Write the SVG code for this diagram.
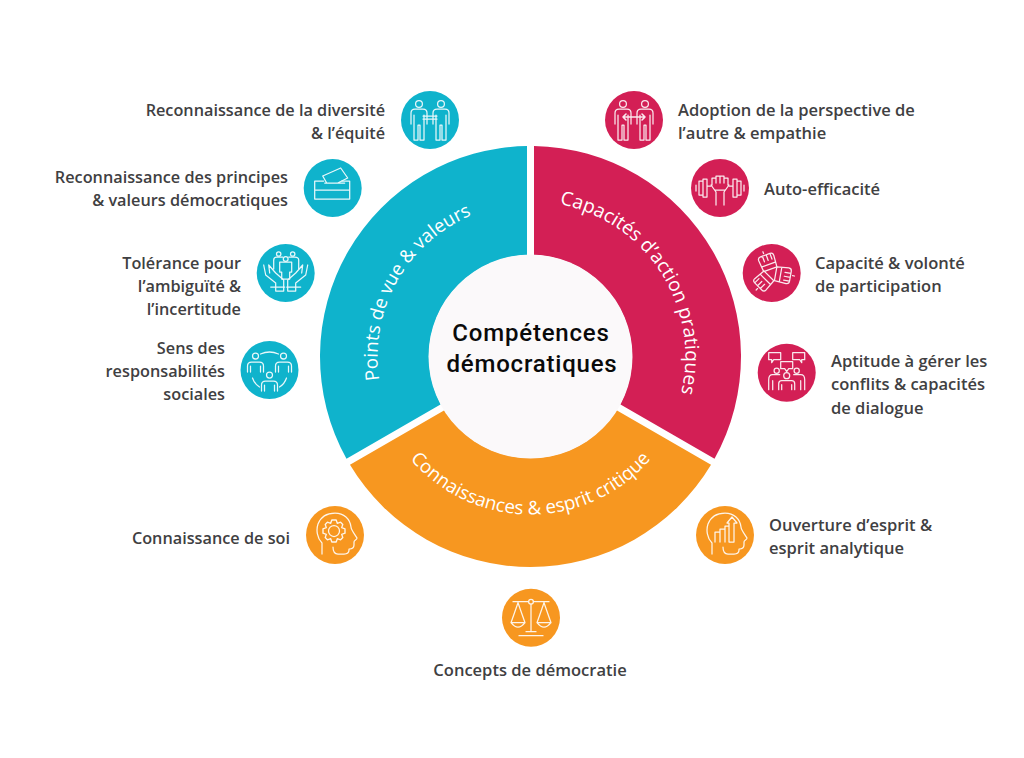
<svg xmlns="http://www.w3.org/2000/svg" xmlns:xlink="http://www.w3.org/1999/xlink" width="1024" height="758" viewBox="0 0 1024 758">
<style>
.lb{font-family:"Open Sans","Liberation Sans",sans-serif;font-size:16.55px;font-weight:600;fill:#3f4042}
.e{text-anchor:end;font-size:16.25px}
.m{text-anchor:middle;font-size:16.55px}
.seg{font-family:"Open Sans","Liberation Sans",sans-serif;font-size:18.7px;font-weight:500;fill:#fff;text-anchor:middle}
.sr{font-size:19.2px}
.ctr{font-family:Roboto,"Liberation Sans",sans-serif;font-size:24px;font-weight:500;fill:#0a0a0a;text-anchor:middle;letter-spacing:.8px}
.ic{fill:none;stroke:#fff;stroke-width:1.25;stroke-linecap:round;stroke-linejoin:round;opacity:.9}
.b{fill:#0fb3cc}.r{fill:#d31f55}.o{fill:#f79720}
</style>
<defs>
<path id="arcB" d="M392.6 422.9 A153 153 0 0 1 515.3 204.3"/>
<path id="arcR" d="M536.6 201.6 A155 155 0 0 1 673.9 415.2"/>
<path id="arcO" d="M396.5 440.2 A158 158 0 0 0 664.5 440.2"/>
<g id="person"><circle cx="0" cy="-16" r="3.4"/><path d="M-8 4V-7Q-8-11-4-11H4Q8-11 8-7V4M-5-5V20H-1V5H1V20H5V-5"/></g>
<g id="bust"><circle cx="0" cy="-7" r="3"/><path d="M-8 9V3Q-8-1-4-1H4Q8-1 8 3V9M-5 3V9M5 3V9"/></g>
<path id="head" d="M-13 19V8C-18 3-19-5-17-11C-14-19-7-22 0-22C9-22 15-16 16-8C16-5 21 1 22 3C22 5 19 5 19 7V10C19 13 17 14 14 14V15C14 18 12 19 9 19H3C-1 19-2 16-2 12"/>
<path id="fist" d="M-7-4L-8-16Q-8-19-5-19H5Q8-19 8-16L7-4ZM-3-19V-13M1-19V-13M5-19V-13M-7-9H7M-1-23V-21"/>
</defs>
<rect width="1024" height="758" fill="#fff"/>

<g id="ring-blue"><path class="b" d="M527 146.03V255.06A101.5 101.5 0 0 0 440.9 404.19L346.48 458.71A210.5 210.5 0 0 1 527 146.03Z"/>
<text class="seg"><textPath href="#arcB" xlink:href="#arcB" startOffset="50%">Points de vue &amp; valeurs</textPath></text></g>
<g id="ring-red"><path class="r" d="M534 146.03V255.06A101.5 101.5 0 0 1 620.1 404.19L714.52 458.71A210.5 210.5 0 0 0 534 146.03Z"/>
<text class="seg sr"><textPath href="#arcR" xlink:href="#arcR" startOffset="50%">Capacités d’action pratiques</textPath></text></g>
<g id="ring-orange"><path class="o" d="M349.98 464.77L444.4 410.25A101.5 101.5 0 0 0 616.6 410.25L711.02 464.77A210.5 210.5 0 0 1 349.98 464.77Z"/>
<text class="seg"><textPath href="#arcO" xlink:href="#arcO" startOffset="50%">Connaissances &amp; esprit critique</textPath></text></g>
<g id="center"><circle cx="530.5" cy="356.5" r="102" fill="#fbf9fa"/>
<text class="ctr" x="531" y="341">Compétences</text><text class="ctr" x="532" y="372">démocratiques</text></g>

<g id="connectors"></g>

<g id="n-diversite"><circle class="b" cx="430" cy="120" r="29"/><g class="ic" transform="translate(430 120)"><use href="#person" xlink:href="#person" x="-11"/><use href="#person" xlink:href="#person" x="11"/><path d="M-7-4H7M-7-1H7"/></g>
<text class="lb e" x="385" y="116">Reconnaissance de la diversité</text><text class="lb e" x="385" y="139">&amp; l’équité</text></g>

<g id="n-principes"><circle class="b" cx="332.7" cy="188" r="29"/><g class="ic" transform="translate(332.7 188)"><path d="M-18-7H-9M9-7H17V11H-18V-7M-18 2H17"/><path d="M-10-12L8-20L15-10L5-5H-6ZM-8-5H12"/></g>
<text class="lb e" x="288" y="183">Reconnaissance des principes</text><text class="lb e" x="288" y="206">&amp; valeurs démocratiques</text></g>

<g id="n-tolerance"><circle class="b" cx="285.7" cy="273" r="29"/><g class="ic" transform="translate(285.7 273)"><circle cx="-7" cy="-19" r="2.2"/><circle cx="7" cy="-19" r="2.2"/><circle cx="0" cy="-14" r="2.4"/><path d="M-12-4V-13Q-12-16-9-16H-3M3-16H9Q13-16 13-13V-4M-6-11H6V-1H4V6H-4V-1H-6Z"/><path d="M-22-6L-20 4L-10 12V20H-2V9L-10 2L-17-6L-16 2M22-6L20 4L10 12V20H2V9L10 2L17-6L16 2M-15 16H-1M1 16H15" transform="translate(0 -2)"/></g>
<text class="lb e" x="241" y="269">Tolérance pour</text><text class="lb e" x="241" y="292">l’ambiguïté &amp;</text><text class="lb e" x="241" y="315">l’incertitude</text></g>

<g id="n-sens"><circle class="b" cx="269.5" cy="370" r="29"/><g class="ic" transform="translate(269.5 370)"><use href="#bust" xlink:href="#bust" x="-14" y="-7"/><use href="#bust" xlink:href="#bust" x="14" y="-7"/><use href="#bust" xlink:href="#bust" x="0" y="12"/><path d="M-9-16Q0-20 9-16M-17 8Q-15 14-10 17M17 8Q15 14 10 17"/></g>
<text class="lb e" x="225" y="354">Sens des</text><text class="lb e" x="225" y="377">responsabilités</text><text class="lb e" x="225" y="400">sociales</text></g>

<g id="n-perspective"><circle class="r" cx="634" cy="120" r="29"/><g class="ic" transform="translate(634 120)"><use href="#person" xlink:href="#person" x="-11"/><use href="#person" xlink:href="#person" x="11"/><path d="M-11-3H11M-8-6L-11-3L-8 0M8-6L11-3L8 0" stroke-width="1.6"/></g>
<text class="lb" x="678" y="116">Adoption de la perspective de</text><text class="lb" x="678" y="139">l’autre &amp; empathie</text></g>

<g id="n-auto"><circle class="r" cx="720" cy="188" r="29"/><g class="ic" transform="translate(720 188)"><path d="M-24-3V3M-21-7V7H-17V-7H-21M-17-9V9H-13V-9H-17M-13-2H-9M24-3V3M21-7V7H17V-7H21M17-9V9H13V-9H17M13-2H9"/><path d="M-9-3L-4 4V17M9-3L4 4V17M-8-3V-10H-4V-12H0V-12H4V-10H8V-3M-4-10V-5M0-12V-5M4-10V-5M-5 2H5"/></g>
<text class="lb" x="764" y="195">Auto-efficacité</text></g>

<g id="n-participation"><circle class="r" cx="771.7" cy="273" r="29"/><g class="ic" transform="translate(771.7 273)"><use href="#fist" xlink:href="#fist" transform="rotate(-20)"/><use href="#fist" xlink:href="#fist" transform="rotate(100)"/><use href="#fist" xlink:href="#fist" transform="rotate(225)"/></g>
<text class="lb" x="815" y="269">Capacité &amp; volonté</text><text class="lb" x="815" y="292">de participation</text></g>

<g id="n-conflits"><circle class="r" cx="786.7" cy="372.7" r="29"/><g class="ic" transform="translate(786.7 372.7)"><path d="M-18-20H-6V-13H-13L-15-10V-13H-18ZM6-20H18V-13H15V-10L13-13H6ZM-6-11H6V-4H2L0-1L-2-4H-6Z"/><circle cx="-10" cy="-2" r="2.6"/><circle cx="10" cy="-2" r="2.6"/><circle cx="0" cy="3" r="3"/><path d="M-18 17V7Q-18 2-14 2H-7M18 17V7Q18 2 14 2H7M-8 17V11Q-8 8-5 8H5Q8 8 8 11V17M-5 12V17M5 12V17M-14 8V17M14 8V17"/></g>
<text class="lb" x="831" y="367">Aptitude à gérer les</text><text class="lb" x="831" y="390">conflits &amp; capacités</text><text class="lb" x="831" y="414">de dialogue</text></g>

<g id="n-ouverture"><circle class="o" cx="725" cy="535" r="29"/><g class="ic" transform="translate(725 535)"><use href="#head" xlink:href="#head"/><path d="M-10 7V-3H-5V7M-5-3V-6H0V7M0-6V-9H4V7M4-9V-12H2L7-18L12-12H9V7H4"/></g>
<text class="lb" x="769" y="531">Ouverture d’esprit &amp;</text><text class="lb" x="769" y="554">esprit analytique</text></g>

<g id="n-soi"><circle class="o" cx="335" cy="535" r="29"/><g class="ic" transform="translate(335 535)"><use href="#head" xlink:href="#head"/><circle cx="-1" cy="-4" r="5.5"/><path transform="translate(-1 -4) scale(1.1) translate(1 5)" d="M-3-15H1L2-12L5-13L7-11L6-8L9-7V-3L6-2L7 1L5 3L2 2L1 5H-3L-4 2L-7 3L-9 1L-8-2L-11-3V-7L-8-8L-9-11L-7-13L-4-12Z"/></g>
<text class="lb e" x="290" y="544">Connaissance de soi</text></g>

<g id="n-concepts"><circle class="o" cx="531" cy="617.7" r="29"/><g class="ic" transform="translate(531 617.7)"><circle cx="0" cy="-16" r="2.4"/><path d="M-18-16H-2.400M2.400-16H18M0-13.600V14M-5 14H5M-12 18H12M-13-15L-20 5H-6L-13-15M13-15L6 5H20L13-15M-20 5Q-13 14-6 5M6 5Q13 14 20 5"/></g>
<text class="lb m" x="530" y="676">Concepts de démocratie</text></g>
</svg>
